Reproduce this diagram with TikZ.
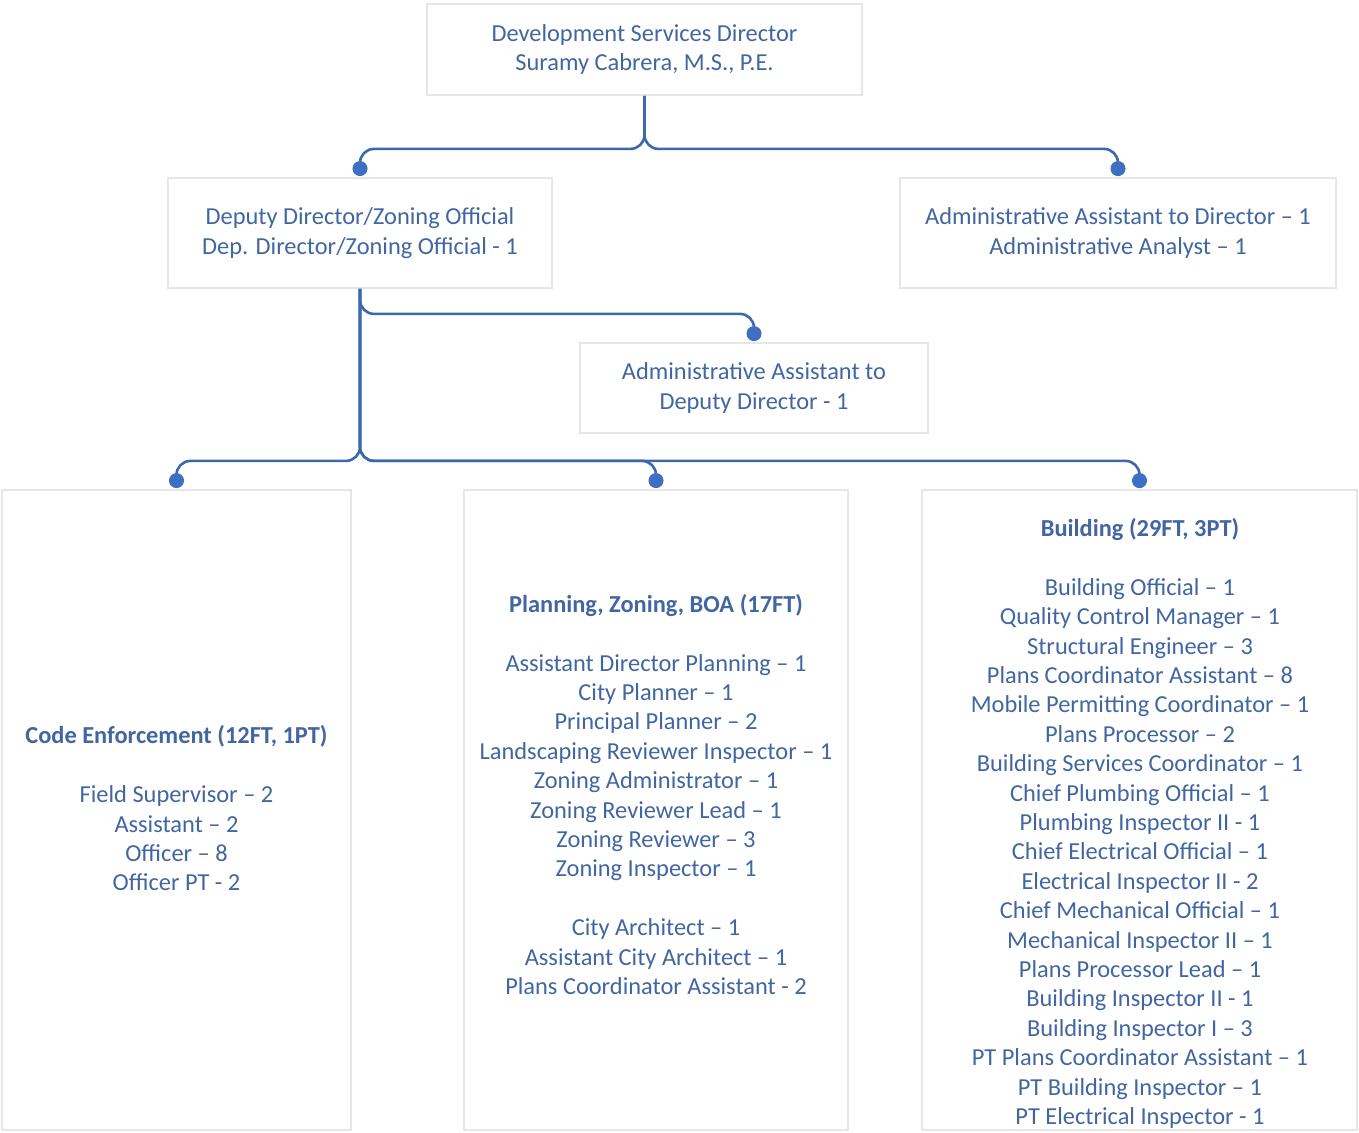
\documentclass[tikz,border=0pt]{standalone}
\usepackage{fontspec}
\setmainfont{Carlito}
\usepackage{xcolor}
\usepackage{tikz}
\usetikzlibrary{arrows.meta, positioning}
\definecolor{ink}{HTML}{4266A2}
\definecolor{wire}{HTML}{3D68AC}
\definecolor{dot}{HTML}{3F6FC2}
\definecolor{edge}{HTML}{E6E6E6}
\tikzset{
  box/.style={rectangle, draw=edge, line width=0.9pt, fill=white, text=ink, align=center, font=\fontsize{12.2}{14.7}\selectfont, inner sep=0pt},
  dept/.style={box, minimum height=320pt},
  list/.style={text=ink, align=center, font=\fontsize{12.2}{14.7}\selectfont, inner sep=0pt},
  link/.style={-{Circle[length=7.5pt, color=dot]}, line width=1.3pt, color=wire, rounded corners=7pt, shorten >=0.5pt},
}
\begin{document}
\begin{tikzpicture}[x=0.5pt, y=-0.5pt]
  \useasboundingbox (0,0) rectangle (1359,1133);
  \node[box, minimum width=217.5pt, minimum height=45.5pt] (dir) at (644.5,49.5) {Development Services Director\\Suramy Cabrera, M.S., P.E.};
  \node[box, minimum width=192pt, minimum height=55pt] (dep) at (360,233) {Deputy Director/Zoning Official\\Dep. Director/Zoning Official - 1};
  \node[box, minimum width=218pt, minimum height=55pt] (admdir) at (1118,233) {Administrative Assistant to Director – 1\\Administrative Analyst – 1};
  \node[box, minimum width=174pt, minimum height=45pt] (admdep) at (754,388) {Administrative Assistant to\\Deputy Director - 1};
  \node[dept, minimum width=174.5pt] (code) at (176.5,810) {};
  \node[dept, minimum width=192pt] (plan) at (656,810) {};
  \node[dept, minimum width=217.5pt] (bld) at (1139.5,810) {};
  \node[list] (code-list) at (176.5,808.5) {\textbf{Code Enforcement (12FT, 1PT)}\\[14.7pt]
    Field Supervisor – 2\\Assistant – 2\\Officer – 8\\Officer PT - 2};
  \node[list] (plan-list) at (656,794.5) {\textbf{Planning, Zoning, BOA (17FT)}\\[14.7pt]
    Assistant Director Planning – 1\\City Planner – 1\\Principal Planner – 2\\Landscaping Reviewer Inspector – 1\\
    Zoning Administrator – 1\\Zoning Reviewer Lead – 1\\Zoning Reviewer – 3\\Zoning Inspector – 1\\[14.7pt]
    City Architect – 1\\Assistant City Architect – 1\\Plans Coordinator Assistant - 2};
  \node[list] (bld-list) at (1140,823.5) {\textbf{Building (29FT, 3PT)}\\[14.7pt]
    Building Official – 1\\Quality Control Manager – 1\\Structural Engineer – 3\\Plans Coordinator Assistant – 8\\
    Mobile Permitting Coordinator – 1\\Plans Processor – 2\\Building Services Coordinator – 1\\Chief Plumbing Official – 1\\
    Plumbing Inspector II - 1\\Chief Electrical Official – 1\\Electrical Inspector II - 2\\Chief Mechanical Official – 1\\
    Mechanical Inspector II – 1\\Plans Processor Lead – 1\\Building Inspector II - 1\\Building Inspector I – 3\\
    PT Plans Coordinator Assistant – 1\\PT Building Inspector – 1\\PT Electrical Inspector - 1};
  \draw[link] (dir.south) -- ++(0,53) -| (dep.north);
  \draw[link] (dir.south) -- ++(0,53) -| (admdir.north);
  \draw[link] (dep.south) -- ++(0,25) -| (admdep.north);
  \draw[link] (dep.south) -- ++(0,172) -| (code.north);
  \draw[link] (dep.south) -- ++(0,172) -| (plan.north);
  \draw[link] (dep.south) -- ++(0,172) -| (bld.north);
\end{tikzpicture}
\end{document}
